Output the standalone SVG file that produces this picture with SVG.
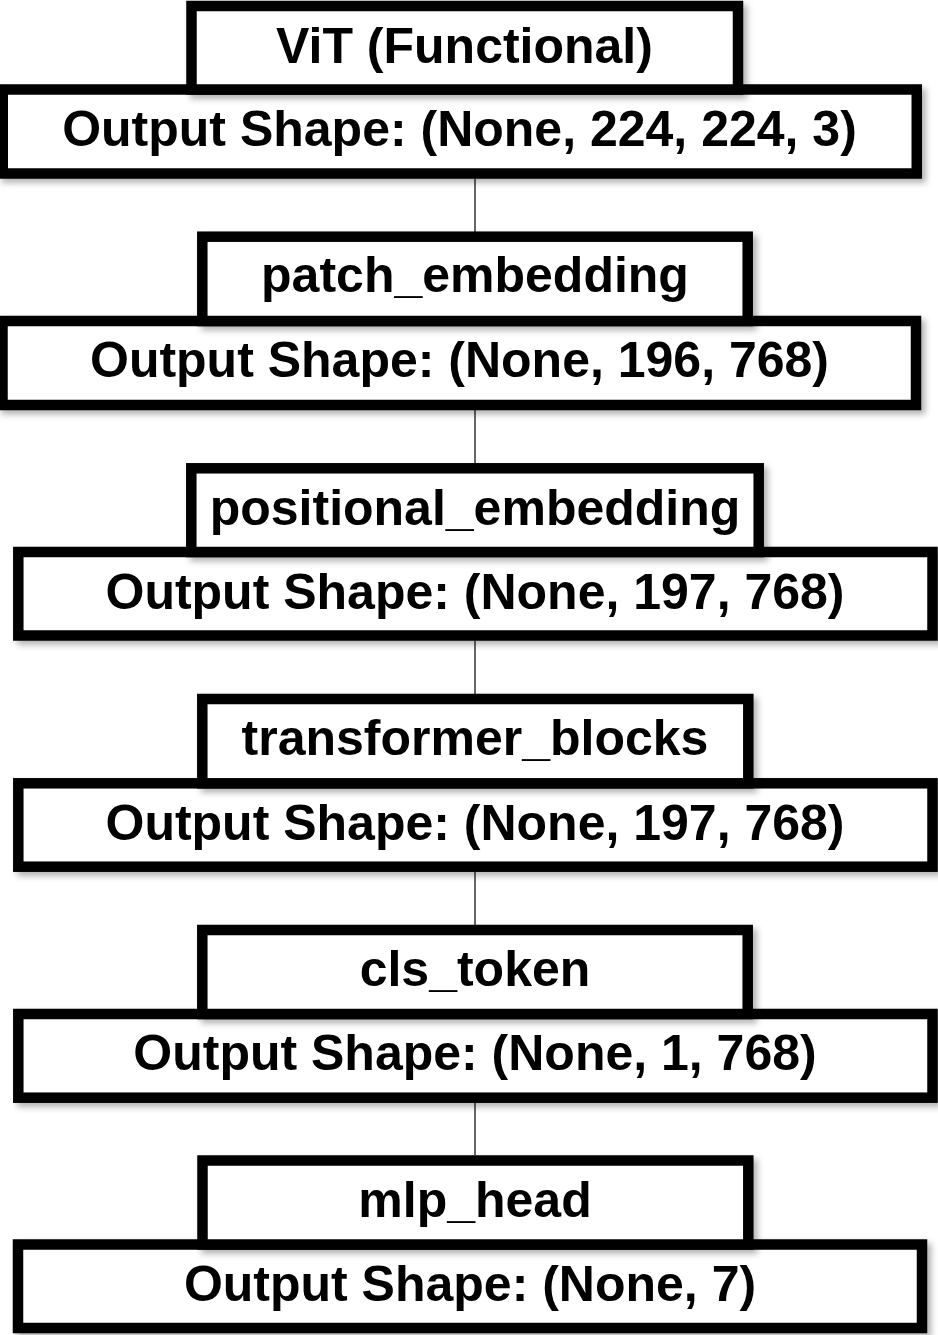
<svg xmlns="http://www.w3.org/2000/svg" width="938" height="1335" viewBox="0 0 938 1335">
  <defs>
    <filter id="shadow" x="-5%" y="-20%" width="115%" height="150%">
      <feDropShadow dx="4" dy="4" stdDeviation="3" flood-color="#000" flood-opacity="0.3"/>
    </filter>
  </defs>
  <style>
    .box { fill: #fff; stroke: #000; stroke-width: 10.5; filter: url(#shadow); }
    .label { font-family: "Liberation Sans", Arial, sans-serif; font-weight: bold; font-size: 50px; fill: #000; text-anchor: middle; }
    .edge { stroke: #333; stroke-width: 1.5; fill: none; }
  </style>
  <rect width="938" height="1335" fill="#fff"/>

  <g id="connectors">
    <line class="edge" x1="475" y1="179" x2="475" y2="232"/>
    <line class="edge" x1="475" y1="410" x2="475" y2="463"/>
    <line class="edge" x1="475" y1="641" x2="475" y2="694"/>
    <line class="edge" x1="475" y1="872" x2="475" y2="925"/>
    <line class="edge" x1="475" y1="1103" x2="475" y2="1155"/>
  </g>

  <g id="vit">
    <rect class="box" x="2.75" y="89.5" width="914" height="84"/>
    <rect class="box" x="191.5" y="6" width="546.5" height="83.5"/>
    <text class="label" x="464.5" y="63">ViT (Functional)</text>
    <text class="label" x="459.5" y="146">Output Shape: (None, 224, 224, 3)</text>
  </g>

  <g id="patch_embedding">
    <rect class="box" x="2.5" y="321" width="913.5" height="84"/>
    <rect class="box" x="202.3" y="236.7" width="545.4" height="84.3"/>
    <text class="label" x="475" y="292">patch_embedding</text>
    <text class="label" x="459.5" y="377">Output Shape: (None, 196, 768)</text>
  </g>

  <g id="positional_embedding">
    <rect class="box" x="18.3" y="552" width="914.2" height="83.5"/>
    <rect class="box" x="191.3" y="468.3" width="567.4" height="83.7"/>
    <text class="label" x="475" y="524.5">positional_embedding</text>
    <text class="label" x="475" y="608.5">Output Shape: (None, 197, 768)</text>
  </g>

  <g id="transformer_blocks">
    <rect class="box" x="18.3" y="783.3" width="914.2" height="83.4"/>
    <rect class="box" x="202.3" y="699" width="546" height="84.3"/>
    <text class="label" x="475" y="755">transformer_blocks</text>
    <text class="label" x="475" y="839.5">Output Shape: (None, 197, 768)</text>
  </g>

  <g id="cls_token">
    <rect class="box" x="18.3" y="1014" width="914.2" height="83.7"/>
    <rect class="box" x="202.3" y="930" width="545.4" height="84"/>
    <text class="label" x="475" y="986">cls_token</text>
    <text class="label" x="475" y="1070">Output Shape: (None, 1, 768)</text>
  </g>

  <g id="mlp_head">
    <rect class="box" x="18" y="1244.5" width="904" height="83.5"/>
    <rect class="box" x="202.5" y="1160.5" width="545.8" height="84"/>
    <text class="label" x="475" y="1217">mlp_head</text>
    <text class="label" x="470" y="1301">Output Shape: (None, 7)</text>
  </g>
</svg>
